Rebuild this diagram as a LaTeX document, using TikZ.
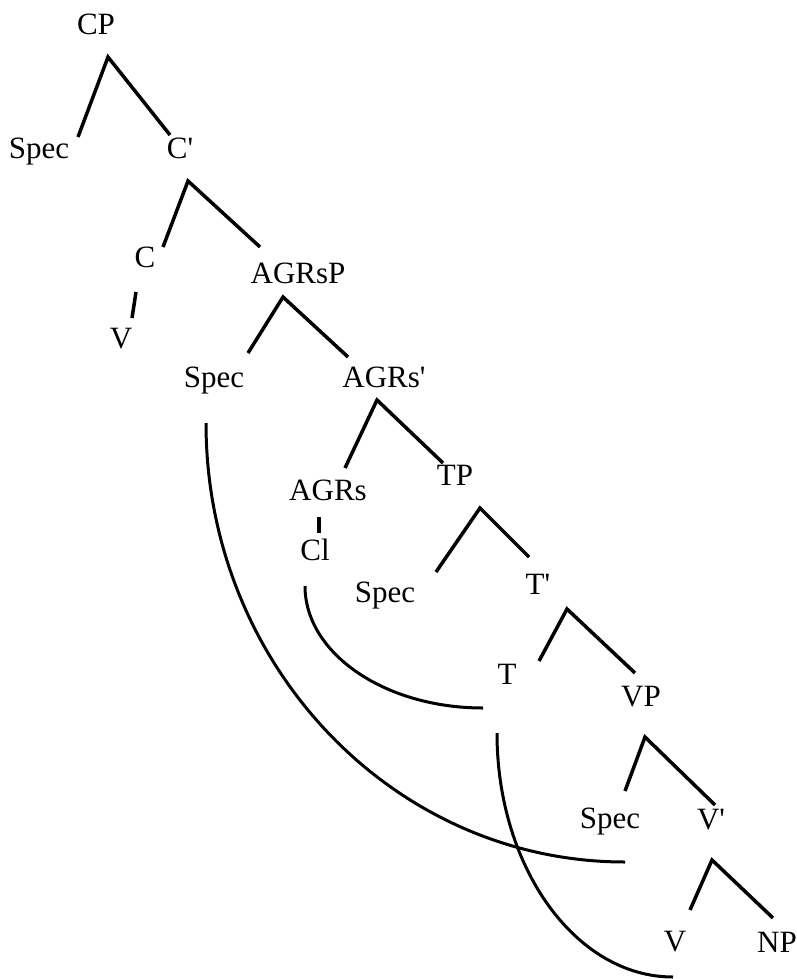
\documentclass[tikz,border=0pt]{standalone}
\usepackage{fontspec}
\setmainfont{Liberation Serif}
\usepackage{tikz}

\newcommand{\pr}{\textquotesingle}

\begin{document}
\begin{tikzpicture}[
            x=1pt, y=-1pt,
            lbl/.style={anchor=base, inner sep=0pt, font=\fontsize{31}{36}\selectfont},
            branch/.style={line width=3.5pt, line join=miter},
            trace/.style={line width=3pt}
        ]
        \useasboundingbox (0,0) rectangle (797,979);

        % labels
        \node (cp) at (96,35) [lbl] {CP};
        \node (cspec) at (39,158) [lbl] {Spec};
        \node (cbar) at (180,158) [lbl] {C\pr};
        \node (c) at (145,267) [lbl] {C};
        \node (cv) at (121,348) [lbl] {V};
        \node (agrsp) at (298,283) [lbl] {AGRsP};
        \node (agrspec) at (214,387) [lbl] {Spec};
        \node (agrsbar) at (384,387) [lbl] {AGRs\pr};
        \node (agrs) at (328,500) [lbl] {AGRs};
        \node (cl) at (315,560) [lbl] {Cl};
        \node (tp) at (455,485) [lbl] {TP};
        \node (tspec) at (385,602) [lbl] {Spec};
        \node (tbar) at (538,594) [lbl] {T\pr};
        \node (t) at (507,684) [lbl] {T};
        \node (vp) at (641,706) [lbl] {VP};
        \node (vspec) at (610,828) [lbl] {Spec};
        \node (vbar) at (711,829) [lbl] {V\pr};
        \node (v) at (675,951) [lbl] {V};
        \node (np) at (777,952) [lbl] {NP};

        % branch points
        \coordinate (cp-a) at (108,57);     \coordinate (cp-l) at (78,137);     \coordinate (cp-r) at (170,135);
        \coordinate (cbar-a) at (188,181);  \coordinate (cbar-l) at (163,247);  \coordinate (cbar-r) at (260,247);
        \coordinate (agrsp-a) at (283,297); \coordinate (agrsp-l) at (248,353); \coordinate (agrsp-r) at (348,357);
        \coordinate (agrsbar-a) at (377,400); \coordinate (agrsbar-l) at (345,468); \coordinate (agrsbar-r) at (443,463);
        \coordinate (tp-a) at (480,508);    \coordinate (tp-l) at (436,572);    \coordinate (tp-r) at (529,557);
        \coordinate (tbar-a) at (567,609);  \coordinate (tbar-l) at (539,661);  \coordinate (tbar-r) at (635,673);
        \coordinate (vp-a) at (645,737);    \coordinate (vp-l) at (625,791);    \coordinate (vp-r) at (715,805);
        \coordinate (vbar-a) at (712,860);  \coordinate (vbar-l) at (690,910);  \coordinate (vbar-r) at (773,918);

        \foreach \n in {cp, cbar, agrsp, agrsbar, tp, tbar, vp, vbar}
            \draw[branch] (\n-l) -- (\n-a) -- (\n-r);

        % head links
        \coordinate (c-b) at (136,292);     \coordinate (cv-t) at (132,318);
        \coordinate (agrs-b) at (319,517);  \coordinate (cl-t) at (319,533);
        \draw[branch] (c-b) -- (cv-t);
        \draw[branch] (agrs-b) -- (cl-t);

        % movement traces
        \coordinate (agrspec-tr) at (206,423); \coordinate (vspec-tr) at (625,862);
        \coordinate (cl-tr) at (305,586);      \coordinate (t-tr) at (483,708);
        \coordinate (t-up) at (497,733);       \coordinate (v-tr) at (673,977);
        \draw[trace] (agrspec-tr) .. controls (206,665.5) and (393.6,862) .. (vspec-tr);
        \draw[trace] (cl-tr) .. controls (305,653.4) and (384.7,708) .. (t-tr);
        \draw[trace] (t-up) .. controls (497,867.8) and (575.8,977) .. (v-tr);
    \end{tikzpicture}
\end{document}
